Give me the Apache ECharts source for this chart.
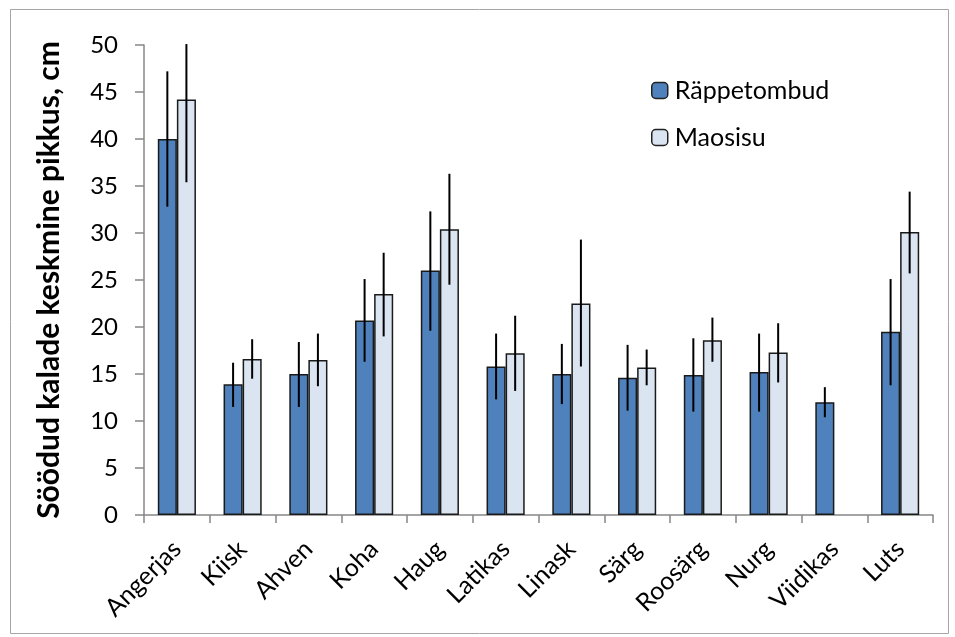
<!DOCTYPE html>
<html>
<head>
<meta charset="utf-8">
<script src="https://cdn.jsdelivr.net/npm/echarts@6/dist/echarts.min.js"></script>
<style>
html,body{margin:0;padding:0;background:#fff;}
#c{width:955px;height:637px;}
</style>
</head>
<body>
<div id="c"></div>
<script>
const categories = ['Angerjas','Kiisk','Ahven','Koha','Haug','Latikas','Linask','Särg','Roosärg','Nurg','Viidikas','Luts'];
const seriesNames = ['Räppetombud','Maosisu'];
const rappValues = [40.0, 13.9, 15.0, 20.7, 26.0, 15.8, 15.0, 14.6, 14.9, 15.2, 12.0, 19.5];
const rappLow    = [32.8, 11.5, 11.5, 16.3, 19.6, 12.3, 11.8, 11.1, 11.0, 11.0, 10.4, 13.8];
const rappHigh   = [47.2, 16.2, 18.4, 25.1, 32.3, 19.3, 18.2, 18.1, 18.8, 19.3, 13.6, 25.1];
const maoValues  = [44.2, 16.6, 16.5, 23.5, 30.4, 17.2, 22.5, 15.7, 18.6, 17.3, null, 30.1];
const maoLow     = [35.4, 14.5, 13.7, 19.0, 24.5, 13.2, 15.8, 13.8, 16.3, 14.1, null, 25.7];
const maoHigh    = [50.1, 18.7, 19.3, 27.9, 36.3, 21.2, 29.3, 17.6, 21.0, 20.4, null, 34.4];
const yTicks = [0,5,10,15,20,25,30,35,40,45,50];

const FONT = 'Lato';
const chart = echarts.init(document.getElementById('c'), null, {renderer:'canvas'});

function errData(low, high){
  return categories.map((c,i)=> (low[i]==null ? [i, null, null] : [i, low[i], high[i]]));
}
function errRender(sign){
  return function(params, api){
    const lo = api.value(1), hi = api.value(2);
    if (lo == null || isNaN(lo)) return;
    const band = api.size([1,0])[0];
    const off = sign * band * 0.145;
    const p1 = api.coord([api.value(0), lo]);
    const p2 = api.coord([api.value(0), hi]);
    return {
      type:'line',
      shape:{x1:p1[0]+off, y1:p1[1], x2:p2[0]+off, y2:p2[1]},
      style:{stroke:'#000', lineWidth:2}
    };
  };
}

chart.setOption({
  animation:false,
  backgroundColor:'#fff',
  graphic:[{
    type:'rect', left:8, top:7, z:-1,
    shape:{width:938, height:624},
    style:{fill:'none', stroke:'#a6a6a6', lineWidth:1}
  }],
  grid:{left:144, right:22, top:45, bottom:122, containLabel:false},
  legend:{
    data:seriesNames,
    orient:'vertical',
    left:651, top:78,
    padding:0,
    itemWidth:16, itemHeight:16,
    itemGap:22,
    textStyle:{fontFamily:FONT, fontSize:25, color:'#000', padding:[0,0,0,2]},
    itemStyle:{borderColor:'#222', borderWidth:1.5}
  },
  xAxis:{
    type:'category',
    data:categories,
    axisLine:{show:true, lineStyle:{color:'#868686', width:1.5}},
    axisTick:{show:true, alignWithLabel:false, length:8, lineStyle:{color:'#868686', width:1.5}},
    axisLabel:{rotate:45, fontFamily:FONT, fontSize:25, color:'#000', margin:30, interval:0},
    splitLine:{show:false}
  },
  yAxis:{
    type:'value',
    min:0, max:50, interval:5,
    name:'Söödud kalade keskmine pikkus, cm',
    nameLocation:'middle',
    nameGap:80,
    nameTextStyle:{fontFamily:FONT, fontSize:30, fontWeight:'bold', color:'#000'},
    axisLine:{show:true, lineStyle:{color:'#868686', width:1.5}},
    axisTick:{show:true, length:9, lineStyle:{color:'#868686', width:1.5}},
    axisLabel:{fontFamily:FONT, fontSize:24, color:'#000', margin:26,
      formatter:(v)=> yTicks.includes(v) ? String(v) : ''},
    splitLine:{show:false}
  },
  series:[
    {
      name:seriesNames[0], type:'bar', data:rappValues,
      barGap:'0%', barCategoryGap:'42%',
      itemStyle:{color:'#4F81BD', borderColor:'#1a1a1a', borderWidth:1.5}
    },
    {
      name:seriesNames[1], type:'bar', data:maoValues,
      barGap:'0%', barCategoryGap:'42%',
      itemStyle:{color:'#DBE5F1', borderColor:'#1a1a1a', borderWidth:1.5}
    },
    {
      type:'custom', data:errData(rappLow, rappHigh), renderItem:errRender(-1),
      encode:{x:0, y:[1,2]}, z:5, silent:true
    },
    {
      type:'custom', data:errData(maoLow, maoHigh), renderItem:errRender(1),
      encode:{x:0, y:[1,2]}, z:5, silent:true
    }
  ]
});
</script>
</body>
</html>
